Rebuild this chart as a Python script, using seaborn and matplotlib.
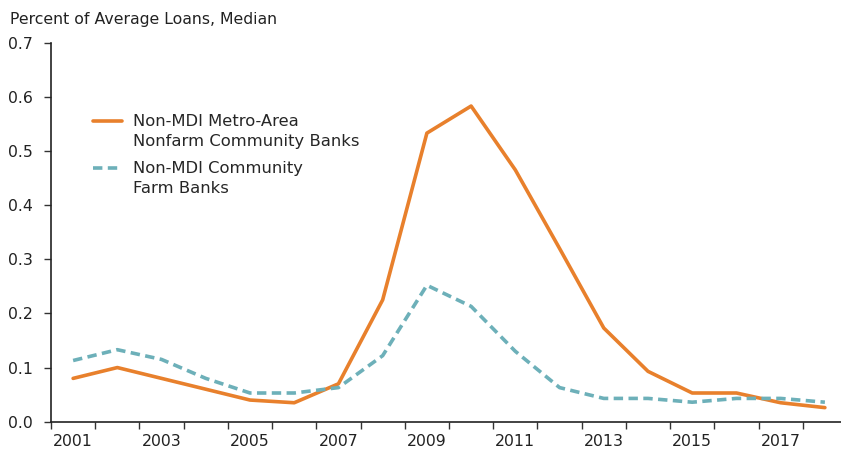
import numpy as np
import pandas as pd
import matplotlib
matplotlib.use('Agg')
import matplotlib.pyplot as plt
import seaborn as sns

years = list(range(2001, 2019))
metro_nonfarm = [0.08, 0.10, 0.08, 0.06, 0.04, 0.035, 0.07, 0.225, 0.533, 0.583,
                 0.465, 0.32, 0.173, 0.093, 0.053, 0.053, 0.035, 0.026]
farm_banks = [0.113, 0.133, 0.115, 0.08, 0.053, 0.053, 0.063, 0.122, 0.252, 0.213,
              0.13, 0.063, 0.043, 0.043, 0.036, 0.043, 0.043, 0.036]
label_metro = 'Non-MDI Metro-Area\nNonfarm Community Banks'
label_farm = 'Non-MDI Community\nFarm Banks'
y_ticks = [0.0, 0.1, 0.2, 0.3, 0.4, 0.5, 0.6, 0.7]
x_labels = [2001, 2003, 2005, 2007, 2009, 2011, 2013, 2015, 2017]

sns.set_theme(style='white')
plt.rcParams['font.family'] = ['DejaVu Sans']

df = pd.DataFrame({'Year': years, 'metro': metro_nonfarm, 'farm': farm_banks})

fig = plt.figure(figsize=(8.41, 4.55), dpi=100)
ax = fig.add_axes([51 / 841, 33.3 / 455, 796 / 841, 379 / 455])

sns.lineplot(data=df, x='Year', y='metro', color='#E8802C', linewidth=2.6,
             label=label_metro, ax=ax)
sns.lineplot(data=df, x='Year', y='farm', color='#6DB0B9', linewidth=2.6,
             label=label_farm, ax=ax)
ax.lines[1].set_dashes([2.6, 1.5])

ax.set_xlim(2000.5, 2018.5)
ax.set_ylim(0, 0.7)
ax.set_yticks(y_ticks)
ax.set_yticklabels([f'{v:.1f}' for v in y_ticks], fontsize=11.3, color='#222222')
ax.set_xticks(np.arange(2000.5, 2019, 1.0))
ax.set_xticklabels([])
ax.set_xticks(x_labels, minor=True)
ax.set_xticklabels([str(y) for y in x_labels], minor=True, fontsize=11.3, color='#222222')
ax.tick_params(axis='x', which='major', direction='out', length=5, width=1, color='#333333', bottom=True)
ax.tick_params(axis='x', which='minor', length=0, pad=9)
ax.tick_params(axis='y', direction='out', length=5, width=1, color='#333333', left=True, pad=8)
ax.set_xlabel('')
ax.set_ylabel('')

for s in ['top', 'right']:
    ax.spines[s].set_visible(False)
for s in ['left', 'bottom']:
    ax.spines[s].set_color('#222222')
    ax.spines[s].set_linewidth(1.2)

leg = ax.legend(loc='upper left', bbox_to_anchor=(0.0528, 0.812), frameon=False,
                fontsize=11.8, handlelength=1.75, handletextpad=0.7, labelspacing=0.75,
                borderpad=0, borderaxespad=0)
for t in leg.get_texts():
    t.set_linespacing(1.4)
# put the legend keys level with the first line of each label
for ln in leg.get_lines():
    ln.set_ydata(np.asarray(ln.get_ydata(), dtype=float) + 8.0)

fig.text(10 / 841, 1 - 24 / 455, 'Percent of Average Loans, Median', fontsize=11.3,
         color='#222222', va='baseline', ha='left')

plt.savefig('out.png', dpi=100)
plt.close()
